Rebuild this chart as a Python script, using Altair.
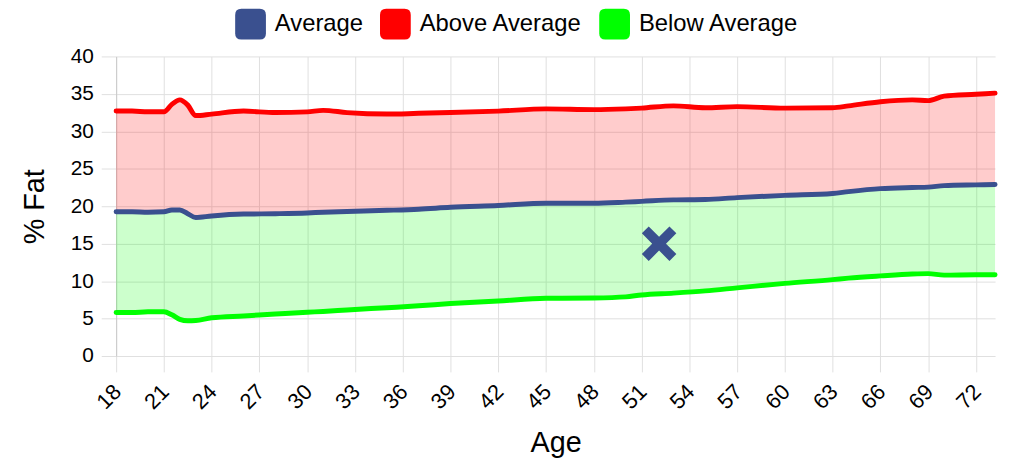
import altair as alt
import pandas as pd

ages = [18, 19, 20, 21, 21.5, 22, 22.5, 23, 24, 26, 28, 30, 31, 32.5, 35, 37, 39, 42,
        45, 48, 50, 51, 53, 55, 57, 60, 63, 64, 66, 68, 69, 70, 72, 73.2]
above = [32.7, 32.7, 32.6, 32.6, 33.6, 34.2, 33.5, 32.1, 32.3, 32.7, 32.5, 32.6, 32.8, 32.5,
         32.3, 32.4, 32.5, 32.7, 33.0, 32.9, 33.0, 33.1, 33.4, 33.15, 33.3, 33.1, 33.15, 33.4,
         33.95, 34.2, 34.1, 34.7, 34.95, 35.1]
average = [19.25, 19.25, 19.2, 19.25, 19.5, 19.5, 19.0, 18.5, 18.7, 18.95, 19.0, 19.1, 19.2,
           19.3, 19.45, 19.6, 19.85, 20.1, 20.4, 20.4, 20.55, 20.65, 20.85, 20.9, 21.15, 21.45,
           21.7, 21.95, 22.35, 22.5, 22.55, 22.75, 22.85, 22.9]
below = [5.8, 5.8, 5.9, 5.9, 5.5, 4.9, 4.7, 4.75, 5.1, 5.35, 5.6, 5.85, 5.95, 6.15, 6.45, 6.7,
         7.0, 7.35, 7.7, 7.75, 7.9, 8.15, 8.4, 8.7, 9.1, 9.7, 10.2, 10.4, 10.7, 10.95, 11.0,
         10.8, 10.85, 10.85]

series_names = ["Average", "Above Average", "Below Average"]
series_colors = ["#3a508f", "#ff0000", "#00ff00"]
x_ticks = list(range(18, 73, 3))
y_ticks = list(range(0, 41, 5))
marker_age = [52.1]
marker_fat = [15]

FONT = "Liberation Sans"

wide = pd.DataFrame({"age": ages, "above": above, "average": average, "below": below})
long = pd.concat(
    [pd.DataFrame({"age": ages, "fat": vals, "series": name})
     for name, vals in zip(series_names, [average, above, below])],
    ignore_index=True,
)
marker = pd.DataFrame({"age": marker_age, "fat": marker_fat})

x_scale = alt.Scale(domain=[18, 73.2], nice=False, zero=False)
y_scale = alt.Scale(domain=[0, 40], nice=False)

x_axis = alt.Axis(values=x_ticks, title="Age", labelAngle=-45, labelFontSize=22,
                  titleFontSize=29, titleFontWeight="normal", domain=False,
                  tickSize=16, tickColor="#e0e0e0", gridColor="#e0e0e0",
                  labelPadding=9, labelOffset=-6, titlePadding=16,
                  labelColor="#000", titleColor="#000")
y_axis = alt.Axis(values=y_ticks, title="% Fat", labelFontSize=21, titleFontSize=29,
                  titleFontWeight="normal", domain=True, domainColor="#c8c8c8",
                  tickSize=15, tickColor="#e0e0e0", gridColor="#e0e0e0",
                  labelPadding=8, titlePadding=21, labelColor="#000", titleColor="#000")

X = alt.X("age:Q", scale=x_scale, axis=x_axis)
Y = alt.Y("fat:Q", scale=y_scale, axis=y_axis)

rounded = ("M-0.6,-1 L0.6,-1 Q1,-1 1,-0.6 L1,0.6 Q1,1 0.6,1 L-0.6,1 Q-1,1 -1,0.6 "
           "L-1,-0.6 Q-1,-1 -0.6,-1 Z")

# hidden points (covered by the lines) that carry the legend
legend_pts = alt.Chart(long).mark_square(size=8, opacity=1).encode(
    x=X, y=Y,
    color=alt.Color("series:N", scale=alt.Scale(domain=series_names, range=series_colors),
                    legend=alt.Legend(title=None, orient="none", direction="horizontal",
                                      legendX=120, legendY=-48, symbolType=rounded,
                                      symbolSize=961, symbolStrokeWidth=0, labelFontSize=24,
                                      labelFont=FONT, labelOffset=9, columnPadding=17,
                                      labelLimit=400, labelColor="#000", symbolOpacity=1)),
)

area_top = alt.Chart(wide).mark_area(color="#ff0000", opacity=0.2, interpolate="monotone").encode(
    x=alt.X("age:Q", scale=x_scale, axis=x_axis),
    y=alt.Y("above:Q", scale=y_scale, axis=y_axis),
    y2="average:Q",
)
area_bot = alt.Chart(wide).mark_area(color="#00ff00", opacity=0.2, interpolate="monotone").encode(
    x=alt.X("age:Q", scale=x_scale, axis=x_axis),
    y=alt.Y("average:Q", scale=y_scale, axis=y_axis),
    y2="below:Q",
)

lines = alt.Chart(long).mark_line(strokeWidth=5, interpolate="monotone", strokeCap="round",
                                  strokeJoin="round").encode(
    x=X, y=Y,
    stroke=alt.Stroke("series:N", scale=alt.Scale(domain=series_names, range=series_colors),
                      legend=None),
    detail="series:N",
)

plus = ("M-1,-0.25L-0.25,-0.25L-0.25,-1L0.25,-1L0.25,-0.25L1,-0.25L1,0.25L0.25,0.25"
        "L0.25,1L-0.25,1L-0.25,0.25L-1,0.25Z")
mark_x = alt.Chart(marker).mark_point(shape=plus, angle=45, size=1550, filled=True,
                                      opacity=1, color="#3a508f").encode(x=X, y=Y)

chart = alt.layer(legend_pts, area_top, area_bot, lines, mark_x).properties(
    width=886, height=302,
    autosize=alt.AutoSizeParams(type="none"),
    padding={"left": 109, "top": 47, "right": 7, "bottom": 103},
).configure(font=FONT).configure_view(stroke=None)

chart.save("out.html", embed_options={"renderer": "svg", "actions": False})
